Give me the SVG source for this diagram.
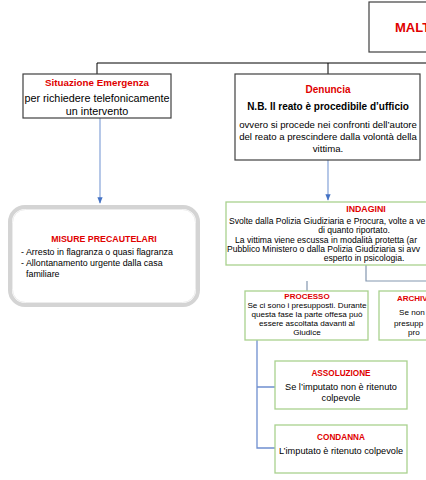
<svg xmlns="http://www.w3.org/2000/svg" width="426" height="480" viewBox="0 0 426 480">
<defs>
<style>
text{font-family:"Liberation Sans",Arial,sans-serif;fill:#000}
.t{fill:#e00000;font-weight:bold}
.c{text-anchor:middle}
.box{fill:#fff;stroke:#404040;stroke-width:1.2}
.gbox{fill:#fff;stroke:#a9d18e;stroke-width:1.3}
.blk{fill:none;stroke:#000;stroke-width:1}
.blu{fill:none;stroke:#8eaadb;stroke-width:1.3}
.blu2{fill:none;stroke:#6f8fcf;stroke-width:1.3}
.gry{fill:none;stroke:#8497b0;stroke-width:1.2}
</style>
<marker id="ah" viewBox="0 0 10 10" refX="9" refY="5" markerWidth="5" markerHeight="5" orient="auto">
<path d="M0,1 L10,5 L0,9 Z" fill="#4472c4"/>
</marker>
</defs>
<rect width="426" height="480" fill="#fff"/>
<g id="connectors">
<path class="blk" d="M97,74 V63 H426 M328,63 V74"/>
<path class="blu" d="M100,118 V203" marker-end="url(#ah)"/>
<path class="blu" d="M328,160 V200" marker-end="url(#ah)"/>
<path class="gry" d="M366,265 V281 H426 M307,281 V291"/>
<path class="blu2" d="M257,340 V448 H275 M257,387 H275"/>
</g>
<g id="malt">
<rect class="box" x="369" y="2" width="70" height="50"/>
<text class="t" x="395" y="32" font-size="13">MALT</text>
</g>
<g id="situazione">
<rect class="box" x="23" y="74" width="148" height="44"/>
<text class="t c" x="97" y="86" font-size="9.8">Situazione Emergenza</text>
<text class="c" x="97" y="102" font-size="10.8">per richiedere telefonicamente</text>
<text class="c" x="97" y="115" font-size="10.8">un intervento</text>
</g>
<g id="denuncia">
<rect class="box" x="235" y="74" width="185" height="86"/>
<text class="t c" x="328" y="93" font-size="10">Denuncia</text>
<text class="c" x="328" y="110" font-size="10" font-weight="bold">N.B.  Il reato è procedibile d’ufficio</text>
<text class="c" x="328" y="128" font-size="9.6">ovvero si procede nei confronti dell’autore</text>
<text class="c" x="328" y="140" font-size="9.6">del reato a prescindere dalla volontà della</text>
<text class="c" x="328" y="152" font-size="9.6">vittima.</text>
</g>
<g id="misure">
<rect x="10" y="207" width="188" height="98" rx="15" fill="#fff" stroke="#d4d4d4" stroke-width="4"/>
<rect x="12.5" y="209.5" width="183" height="93" rx="13" fill="none" stroke="#ececec" stroke-width="1"/>
<text class="t c" x="104" y="242" font-size="8.8">MISURE PRECAUTELARI</text>
<text x="21" y="255" font-size="8.9">- Arresto in flagranza o quasi flagranza</text>
<text x="21" y="266" font-size="8.9">- Allontanamento urgente dalla casa</text>
<text x="26" y="277" font-size="8.9">familiare</text>
</g>
<g id="indagini">
<rect class="gbox" x="226" y="202" width="300" height="63"/>
<text class="t c" x="366" y="212" font-size="8.8">INDAGINI</text>
<text x="229" y="224" font-size="8.6">Svolte dalla Polizia Giudiziaria e Procura, volte a ve</text>
<text class="c" x="354" y="233" font-size="8.6">di quanto riportato.</text>
<text x="235" y="243" font-size="8.6">La vittima viene escussa in modalità protetta (ar</text>
<text x="227" y="252" font-size="8.6">Pubblico Ministero o dalla Polizia Giudiziaria si avv</text>
<text class="c" x="364" y="261" font-size="8.6">esperto in psicologia.</text>
</g>
<g id="processo">
<rect class="gbox" x="245" y="291" width="123" height="49"/>
<text class="t c" x="307" y="299" font-size="8">PROCESSO</text>
<text class="c" x="307" y="308" font-size="8.1">Se ci sono i presupposti. Durante</text>
<text class="c" x="307" y="317" font-size="8.1">questa fase la parte offesa può</text>
<text class="c" x="307" y="326" font-size="8.1">essere ascoltata davanti al</text>
<text class="c" x="307" y="335" font-size="8.1">Giudice</text>
</g>
<g id="archiv">
<rect class="gbox" x="379" y="291" width="100" height="49"/>
<text class="t" x="397" y="301" font-size="8">ARCHIV</text>
<text x="399" y="315" font-size="8.1">Se non</text>
<text x="394" y="326" font-size="8.1">presupp</text>
<text x="408" y="335" font-size="8.1">pro</text>
</g>
<g id="assoluzione">
<rect class="gbox" x="275" y="361" width="132" height="48"/>
<text class="t c" x="341" y="376" font-size="8.2">ASSOLUZIONE</text>
<text class="c" x="341" y="390" font-size="9.2">Se l’imputato non è ritenuto</text>
<text class="c" x="341" y="401" font-size="9.2">colpevole</text>
</g>
<g id="condanna">
<rect class="gbox" x="275" y="425" width="132" height="48"/>
<text class="t c" x="341" y="440" font-size="8.2">CONDANNA</text>
<text class="c" x="341" y="454" font-size="9.2">L’imputato è ritenuto colpevole</text>
</g>
</svg>
